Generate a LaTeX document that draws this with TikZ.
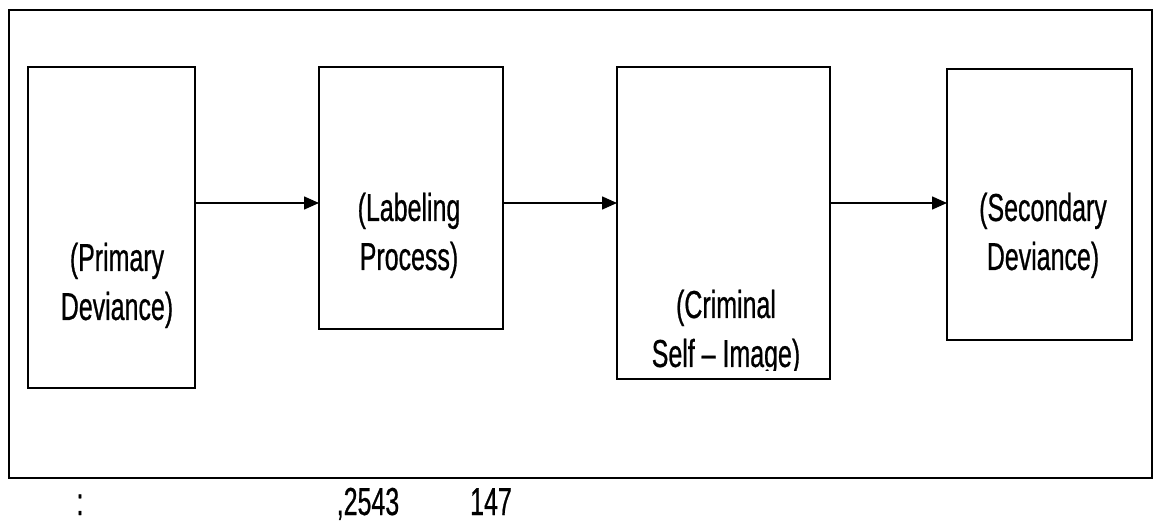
\documentclass[tikz,border=0pt]{standalone}
\usepackage{fontspec}
\setmainfont{Liberation Sans}[FakeStretch=0.64,FakeBold=0.6]
\usetikzlibrary{arrows.meta}
\newcommand\twolines[2]{\begin{tabular}[t]{@{}c@{}}#1\\#2\end{tabular}}
\begin{document}
\begin{tikzpicture}[x=1pt,y=-1pt,
  boxnode/.style={draw=black, line width=1.6pt, inner sep=0pt, outer sep=0pt, fill=none},
  lbl/.style={inner sep=0pt, outer sep=0pt, anchor=base, font=\fontsize{39}{49}\selectfont},
  flow/.style={line width=1.5pt, -{Triangle[length=15pt,width=13pt]}}]
\useasboundingbox (0,0) rectangle (1154,521);
% outer frame
\node[boxnode, minimum width=1143pt, minimum height=468pt] (frame) at (580.5,244) {};
% boxes
\node[boxnode, minimum width=167pt, minimum height=321pt] (b1) at (111.5,227.5) {};
\node[boxnode, minimum width=184pt, minimum height=262pt] (b2) at (411,198) {};
\node[boxnode, minimum width=213pt, minimum height=312pt] (b3) at (723.5,223) {};
\node[boxnode, minimum width=185pt, minimum height=271pt] (b4) at (1039.5,204.5) {};
% arrow level
\coordinate (ay) at (0,203);
\draw[flow] (b1.east |- ay) -- (b2.west |- ay);
\draw[flow] (b2.east |- ay) -- (b3.west |- ay);
\draw[flow] (b3.east |- ay) -- (b4.west |- ay);
% texts
\node[lbl] (t1) at (117,271) {\twolines{(Primary}{Deviance)}};
\node[lbl] (t2) at (409,221) {\twolines{(Labeling}{Process)}};
\begin{scope}
  \clip (617,67) rectangle (830,370);
  \node[lbl] (t3) at (726,318) {\twolines{(Criminal}{Self -- Image)}};
\end{scope}
\node[lbl] (t4) at (1043,221) {\twolines{(Secondary}{Deviance)}};
% bottom line of text
\node[lbl] (s1) at (80,515) {:};
\node[lbl] (s2) at (368,515) {,2543};
\node[lbl] (s3) at (491,515) {147};
\end{tikzpicture}
\end{document}
